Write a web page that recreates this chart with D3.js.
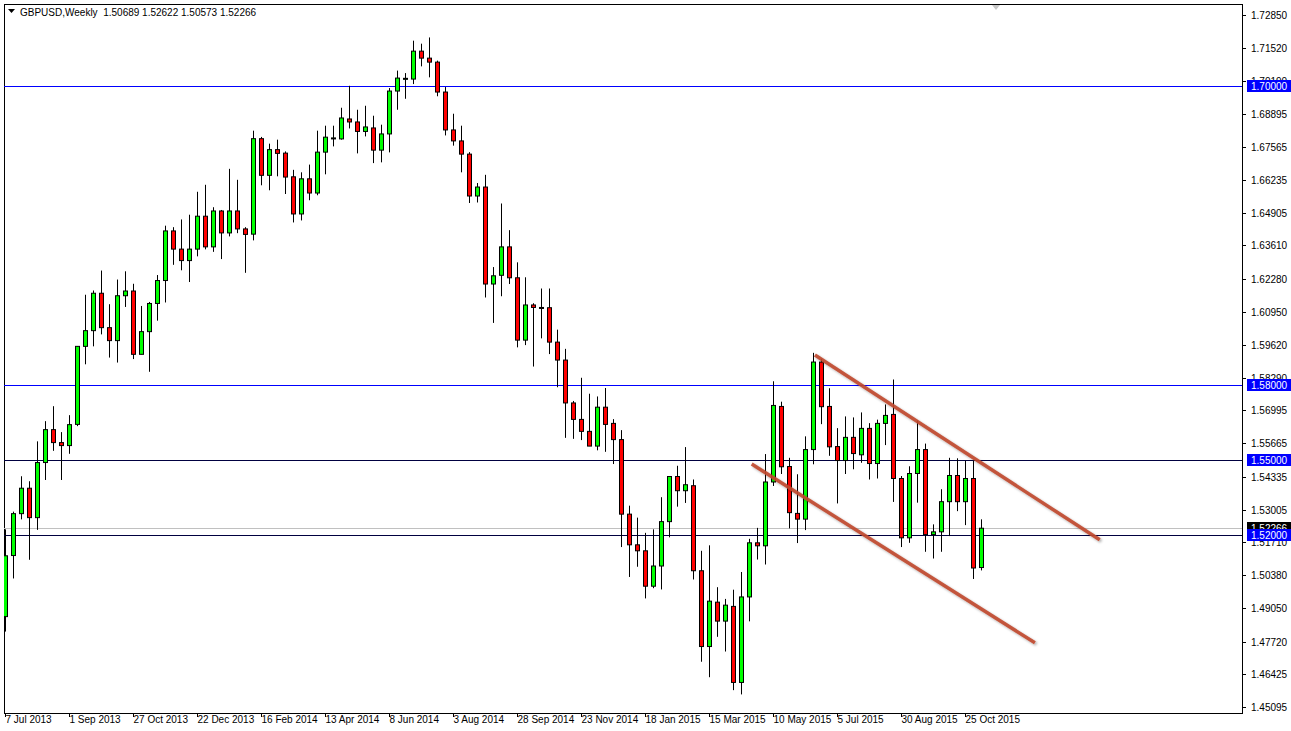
<!DOCTYPE html>
<html><head><meta charset="utf-8">
<script src="https://cdn.jsdelivr.net/npm/d3@7"></script>
<style>body{margin:0;background:#fff;}svg{display:block;font-family:"Liberation Sans",Arial,sans-serif;}</style>
</head><body>
<script>
const title = "GBPUSD,Weekly  1.50689 1.52622 1.50573 1.52266";
// weekly candles [open, high, low, close]
const ohlc = [
[1.4872,1.5222,1.4812,1.5116],[1.5117,1.5293,1.5025,1.5285],[1.5285,1.5435,1.5262,1.5387],[1.5387,1.5415,1.5100,1.5269],
[1.5269,1.5575,1.5220,1.5490],[1.5490,1.5656,1.5420,1.5622],[1.5622,1.5716,1.5537,1.5570],[1.5570,1.5612,1.5420,1.5558],
[1.5558,1.5680,1.5525,1.5642],[1.5643,1.5956,1.5636,1.5956],[1.5956,1.6163,1.5884,1.6019],[1.6019,1.6180,1.5956,1.6169],
[1.6169,1.6260,1.6004,1.6031],[1.6031,1.6125,1.5911,1.5979],[1.5979,1.6224,1.5891,1.6159],[1.6159,1.6257,1.6114,1.6178],
[1.6178,1.6207,1.5905,1.5924],[1.5924,1.6118,1.5924,1.6015],[1.6015,1.6134,1.5854,1.6128],[1.6128,1.6242,1.6059,1.6220],
[1.6220,1.6440,1.6132,1.6419],[1.6419,1.6434,1.6283,1.6346],[1.6346,1.6465,1.6261,1.6300],[1.6300,1.6484,1.6214,1.6346],
[1.6346,1.6576,1.6317,1.6478],[1.6478,1.6604,1.6345,1.6355],[1.6355,1.6514,1.6335,1.6499],[1.6499,1.6503,1.6306,1.6411],
[1.6411,1.6668,1.6397,1.6499],[1.6499,1.6624,1.6410,1.6427],[1.6427,1.6434,1.6251,1.6405],[1.6406,1.6821,1.6381,1.6789],
[1.6789,1.6796,1.6602,1.6642],[1.6642,1.6769,1.6582,1.6745],[1.6745,1.6785,1.6638,1.6730],[1.6731,1.6738,1.6567,1.6635],
[1.6636,1.6664,1.6453,1.6487],[1.6487,1.6654,1.6461,1.6628],[1.6628,1.6685,1.6542,1.6571],[1.6571,1.6821,1.6562,1.6735],
[1.6735,1.6841,1.6646,1.6795],[1.6790,1.6841,1.6758,1.6792],[1.6788,1.6913,1.6785,1.6872],[1.6868,1.7001,1.6830,1.6856],
[1.6856,1.6905,1.6730,1.6818],[1.6818,1.6921,1.6798,1.6836],[1.6832,1.6881,1.6691,1.6743],[1.6743,1.6845,1.6694,1.6808],
[1.6808,1.6992,1.6734,1.6980],[1.6980,1.7062,1.6905,1.7032],[1.7029,1.7052,1.6949,1.7031],[1.7028,1.7182,1.7008,1.7140],
[1.7140,1.7170,1.7079,1.7112],[1.7112,1.7195,1.7035,1.7096],[1.7096,1.7102,1.6959,1.6976],[1.6976,1.6996,1.6802,1.6824],
[1.6824,1.6889,1.6761,1.6780],[1.6780,1.6841,1.6654,1.6727],[1.6727,1.6735,1.6531,1.6559],[1.6559,1.6611,1.6533,1.6595],
[1.6595,1.6644,1.6152,1.6206],[1.6206,1.6274,1.6050,1.6239],[1.6241,1.6529,1.6157,1.6355],[1.6355,1.6422,1.6206,1.6231],
[1.6231,1.6293,1.5952,1.5981],[1.5981,1.6233,1.5961,1.6122],[1.6122,1.6129,1.5875,1.6112],[1.6112,1.6188,1.5988,1.6111],
[1.6111,1.6188,1.5925,1.5973],[1.5973,1.6023,1.5792,1.5901],[1.5901,1.5946,1.5589,1.5729],[1.5729,1.5737,1.5585,1.5663],
[1.5663,1.5830,1.5580,1.5615],[1.5615,1.5766,1.5556,1.5556],[1.5556,1.5755,1.5539,1.5712],[1.5712,1.5789,1.5533,1.5643],
[1.5647,1.5664,1.5484,1.5582],[1.5582,1.5620,1.5151,1.5283],[1.5283,1.5317,1.5031,1.5160],[1.5160,1.5269,1.5072,1.5136],
[1.5136,1.5208,1.4945,1.4994],[1.4994,1.5222,1.4986,1.5075],[1.5075,1.5351,1.4981,1.5253],[1.5253,1.5434,1.5190,1.5434],
[1.5434,1.5477,1.5313,1.5377],[1.5377,1.5552,1.5328,1.5401],[1.5397,1.5422,1.5021,1.5056],[1.5056,1.5136,1.4691,1.4752],
[1.4752,1.5158,1.4629,1.4934],[1.4930,1.4990,1.4791,1.4854],[1.4854,1.4943,1.4732,1.4918],[1.4913,1.4980,1.4577,1.4608],
[1.4608,1.5051,1.4560,1.4951],[1.4951,1.5184,1.4853,1.5168],[1.5168,1.5228,1.5101,1.5156],[1.5156,1.5524,1.5081,1.5412],
[1.5412,1.5816,1.5396,1.5719],[1.5715,1.5734,1.5444,1.5473],[1.5474,1.5509,1.5226,1.5289],[1.5286,1.5443,1.5167,1.5263],
[1.5263,1.5595,1.5219,1.5542],[1.5542,1.5930,1.5483,1.5893],[1.5893,1.5906,1.5644,1.5714],[1.5715,1.5788,1.5517,1.5553],
[1.5554,1.5628,1.5326,1.5498],[1.5498,1.5675,1.5444,1.5591],[1.5591,1.5671,1.5463,1.5526],[1.5521,1.5691,1.5489,1.5627],
[1.5627,1.5648,1.5422,1.5486],[1.5486,1.5662,1.5426,1.5647],[1.5647,1.5723,1.5560,1.5679],[1.5683,1.5823,1.5332,1.5426],
[1.5426,1.5436,1.5151,1.5188],[1.5188,1.5475,1.5168,1.5446],[1.5446,1.5658,1.5329,1.5542],[1.5542,1.5566,1.5132,1.5201],
[1.5201,1.5242,1.5105,1.5212],[1.5212,1.5383,1.5132,1.5333],[1.5333,1.5509,1.5195,1.5438],[1.5438,1.5507,1.5295,1.5333],
[1.5333,1.5497,1.5239,1.5426],[1.5426,1.5497,1.5023,1.5067],[1.50689,1.52622,1.50573,1.52266]
];
const dateLabels = ["7 Jul 2013","1 Sep 2013","27 Oct 2013","22 Dec 2013","16 Feb 2014","13 Apr 2014","8 Jun 2014","3 Aug 2014","28 Sep 2014","23 Nov 2014","18 Jan 2015","15 Mar 2015","10 May 2015","5 Jul 2015","30 Aug 2015","25 Oct 2015"];
const labelEvery = 8;
const priceTicks = [1.72850,1.71520,1.70190,1.68895,1.67565,1.66235,1.64905,1.63610,1.62280,1.60950,1.59620,1.58290,1.56995,1.55665,1.54335,1.53005,1.51710,1.50380,1.49050,1.47720,1.46425,1.45095];
const levels = [1.70,1.58,1.55,1.52];
const lastPrice = 1.52266;
// trend channel: [index, price] endpoints
const upperLine = [[101.2,1.5921],[136.8,1.5180]];
const lowerLine = [[93.3,1.5484],[128.7,1.4767]];

const W=1291,H=731, plotL=4, plotR=1242, plotT=4, plotB=713;
const svg=d3.select("body").append("svg").attr("width",W).attr("height",H);
const x=d3.scaleLinear().domain([0,122]).range([5.3,981.3]);
const y=d3.scaleLinear().domain([1.7285,1.45095]).range([15,707]);

const defs=svg.append("defs");
const f=defs.append("filter").attr("id","sh").attr("x","-5%").attr("y","-5%").attr("width","110%").attr("height","110%");
f.append("feDropShadow").attr("dx",1.5).attr("dy",1.5).attr("stdDeviation",1.2).attr("flood-color","#000").attr("flood-opacity",0.35);
const cp=defs.append("clipPath").attr("id","cp");
cp.append("rect").attr("x",plotL).attr("y",plotT).attr("width",plotR-plotL).attr("height",plotB-plotT);

// frame
svg.append("rect").attr("x",plotL+0.5).attr("y",plotT+0.5).attr("width",plotR-plotL).attr("height",plotB-plotT).attr("fill","none").attr("stroke","#000");

const g=svg.append("g").attr("clip-path","url(#cp)");
// level lines
g.append("line").attr("x1",plotL).attr("x2",plotR).attr("y1",Math.round(y(lastPrice))+0.5).attr("y2",Math.round(y(lastPrice))+0.5).attr("stroke","#c0c0c0");
levels.forEach((p,i)=>{
  g.append("line").attr("x1",plotL).attr("x2",plotR).attr("y1",Math.round(y(p))+0.5).attr("y2",Math.round(y(p))+0.5)
   .attr("stroke", i<2?"#0000ff":"#000040");
});
// candles
const c=g.selectAll("g.c").data(ohlc).join("g");
c.append("line").attr("x1",(d,i)=>Math.round(x(i))+0.5).attr("x2",(d,i)=>Math.round(x(i))+0.5)
 .attr("y1",d=>y(d[1])).attr("y2",d=>y(d[2])).attr("stroke","#000");
c.append("rect").attr("x",(d,i)=>Math.round(x(i))-2+0.5).attr("width",4)
 .attr("y",d=>y(Math.max(d[0],d[3]))).attr("height",d=>Math.max(1,Math.abs(y(d[0])-y(d[3]))))
 .attr("fill",d=>d[3]>=d[0]?"#00ff00":"#ff0000").attr("stroke","#000").attr("stroke-width",1);
// channel
[upperLine,lowerLine].forEach(L=>{
  g.append("line").attr("x1",x(L[0][0])).attr("y1",y(L[0][1])).attr("x2",x(L[1][0])).attr("y2",y(L[1][1]))
   .attr("stroke","#c0482e").attr("stroke-width",3.5).attr("stroke-opacity",0.9).attr("filter","url(#sh)");
});

// right axis
const ra=svg.append("g").attr("font-size",10).attr("fill","#000");
priceTicks.forEach(p=>{
  const yy=Math.round(y(p))+0.5;
  ra.append("line").attr("x1",plotR).attr("x2",plotR+4).attr("y1",yy).attr("y2",yy).attr("stroke","#000");
  ra.append("text").attr("x",1251).attr("y",yy+3.5).text(p.toFixed(5));
});
const tag=(p,bg)=>{
  const yy=Math.round(y(p));
  ra.append("rect").attr("x",1247).attr("y",yy-6).attr("width",44).attr("height",12).attr("fill",bg);
  ra.append("text").attr("x",1251).attr("y",yy+4).attr("fill","#fff").text(p.toFixed(5));
};
tag(lastPrice,"#000");
levels.forEach(p=>tag(p,"#0000ff"));

// bottom axis
const ba=svg.append("g").attr("font-size",10);
dateLabels.forEach((t,k)=>{
  const xx=Math.round(x(k*labelEvery))+0.5;
  ba.append("line").attr("x1",xx).attr("x2",xx).attr("y1",plotB).attr("y2",plotB+4).attr("stroke","#000");
  ba.append("text").attr("x",xx).attr("y",723).text(t);
});

// header
svg.append("path").attr("d","M8,9 L15,9 L11.5,13 Z").attr("fill","#000");
svg.append("text").attr("x",20).attr("y",16).attr("font-size",10).attr("xml:space","preserve").style("white-space","pre").text(title);
svg.append("path").attr("d","M992,5 L1000,5 L996,10 Z").attr("fill","#c8c8c8");
</script>
</body></html>
